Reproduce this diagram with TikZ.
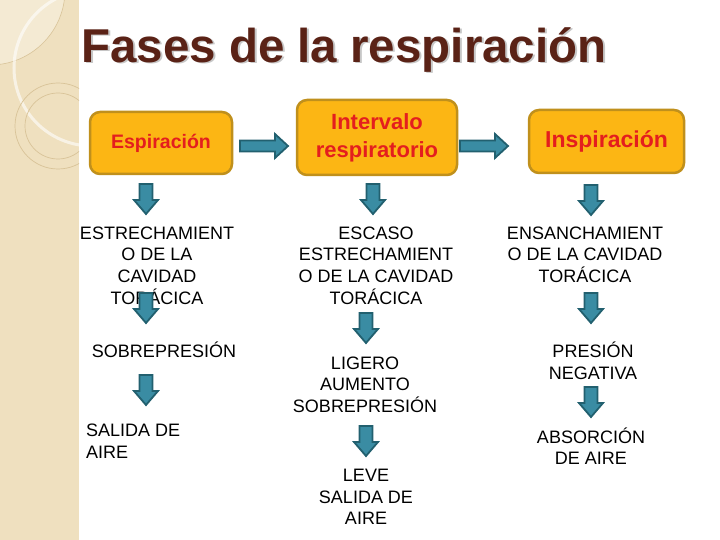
\documentclass[tikz,border=0pt]{standalone}
\usepackage{fontspec}
\setmainfont{Liberation Sans}
\definecolor{strip}{HTML}{EFE0BF}
\definecolor{striplight}{HTML}{F4EAD3}
\definecolor{stripline}{HTML}{D8C398}
\definecolor{titlebrown}{HTML}{5A2216}
\definecolor{boxfill}{HTML}{FCB614}
\definecolor{boxborder}{HTML}{C0901C}
\definecolor{boxtext}{HTML}{E41E1E}
\definecolor{arrfill}{HTML}{3A8CA3}
\definecolor{arrline}{HTML}{22606F}
\tikzset{
  phase/.style={draw=boxborder, line width=2.5pt, fill=boxfill, rounded corners=10pt,
    text=boxtext, font=\bfseries, align=center, inner sep=0pt},
  stage/.style={font=\fontsize{18}{21.6}\selectfont, align=center, inner sep=0pt, text=black},
  blockarrow/.style={fill=arrfill, draw=arrline, line width=1.8pt, line join=miter},
  pics/darrow/.style={code={\filldraw[blockarrow] (-6.5,0) -- (6.5,0) -- (6.5,16) -- (12,16) -- (0,30) -- (-12,16) -- (-6.5,16) -- cycle;}},
  pics/rarrow/.style={code={\filldraw[blockarrow] (0,-5.5) -- (35,-5.5) -- (35,-12) -- (48,0) -- (35,12) -- (35,5.5) -- (0,5.5) -- cycle;}}
}
\begin{document}
\begin{tikzpicture}[x=1pt,y=-1pt]
\useasboundingbox (0,0) rectangle (720,540);
\fill[white] (0,0) rectangle (720,540);
% decorative left strip
\begin{scope}
  \clip (0,0) rectangle (79,540);
  \fill[strip] (0,0) rectangle (79,540);
  \fill[striplight] (-10,-10) circle[radius=75];
  \draw[stripline, line width=0.6pt] (-10,-10) circle[radius=75];
  \draw[white, opacity=0.6, line width=3pt] (92,68) circle[radius=78];
  \draw[stripline, line width=0.7pt] (58,126) circle[radius=43];
  \draw[stripline, line width=0.7pt] (58,126) circle[radius=33];
\end{scope}
% title (with its soft shadow)
\node[anchor=base west, inner sep=0pt, text=black!22, font=\fontsize{47.5}{50}\selectfont\bfseries] at (83,64) {Fases de la respiración};
\node[anchor=base west, inner sep=0pt, text=titlebrown, font=\fontsize{47.5}{50}\selectfont\bfseries] (title) at (81,62.5) {Fases de la respiración};
% phase boxes
\node[phase, minimum width=142pt, minimum height=62pt, font=\fontsize{19.5}{23}\selectfont\bfseries] (esp) at (161,143) {Espiración};
\node[phase, minimum width=160pt, minimum height=75pt, font=\fontsize{22}{28}\selectfont\bfseries] (int) at (377,137.5) {Intervalo\\respiratorio};
\node[phase, minimum width=155pt, minimum height=63pt, font=\fontsize{23}{28}\selectfont\bfseries] (ins) at (606.5,141.5) {Inspiración};
% stage texts
\node[stage] (l1) at (157,265.5) {ESTRECHAMIENT\\O DE LA\\CAVIDAD\\TORÁCICA};
\node[stage] (l2) at (164,350.2) {SOBREPRESIÓN};
\node[stage, anchor=west, align=left] (l3) at (86,441) {SALIDA DE\\AIRE};
\node[stage] (m1) at (376,265.5) {ESCASO\\ESTRECHAMIENT\\O DE LA CAVIDAD\\TORÁCICA};
\node[stage] (m2) at (365,384.5) {LIGERO\\AUMENTO\\SOBREPRESIÓN};
\node[stage] (m3) at (366,497) {LEVE\\SALIDA DE\\AIRE};
\node[stage] (r1) at (585,254.5) {ENSANCHAMIENT\\O DE LA CAVIDAD\\TORÁCICA};
\node[stage] (r2) at (593,360.7) {PRESIÓN\\NEGATIVA};
\node[stage] (r3) at (591,446) {ABSORCIÓN\\DE AIRE};
% horizontal block arrows
\pic at (240,146) {rarrow};
\pic at (460,146) {rarrow};
% vertical block arrows
\pic at (146,184) {darrow};
\pic at (146,293) {darrow};
\pic at (146,375) {darrow};
\pic at (373,184) {darrow};
\pic at (366,313) {darrow};
\pic at (366,426) {darrow};
\pic at (591,185) {darrow};
\pic at (591,293) {darrow};
\pic at (591,387) {darrow};
\end{tikzpicture}
\end{document}
